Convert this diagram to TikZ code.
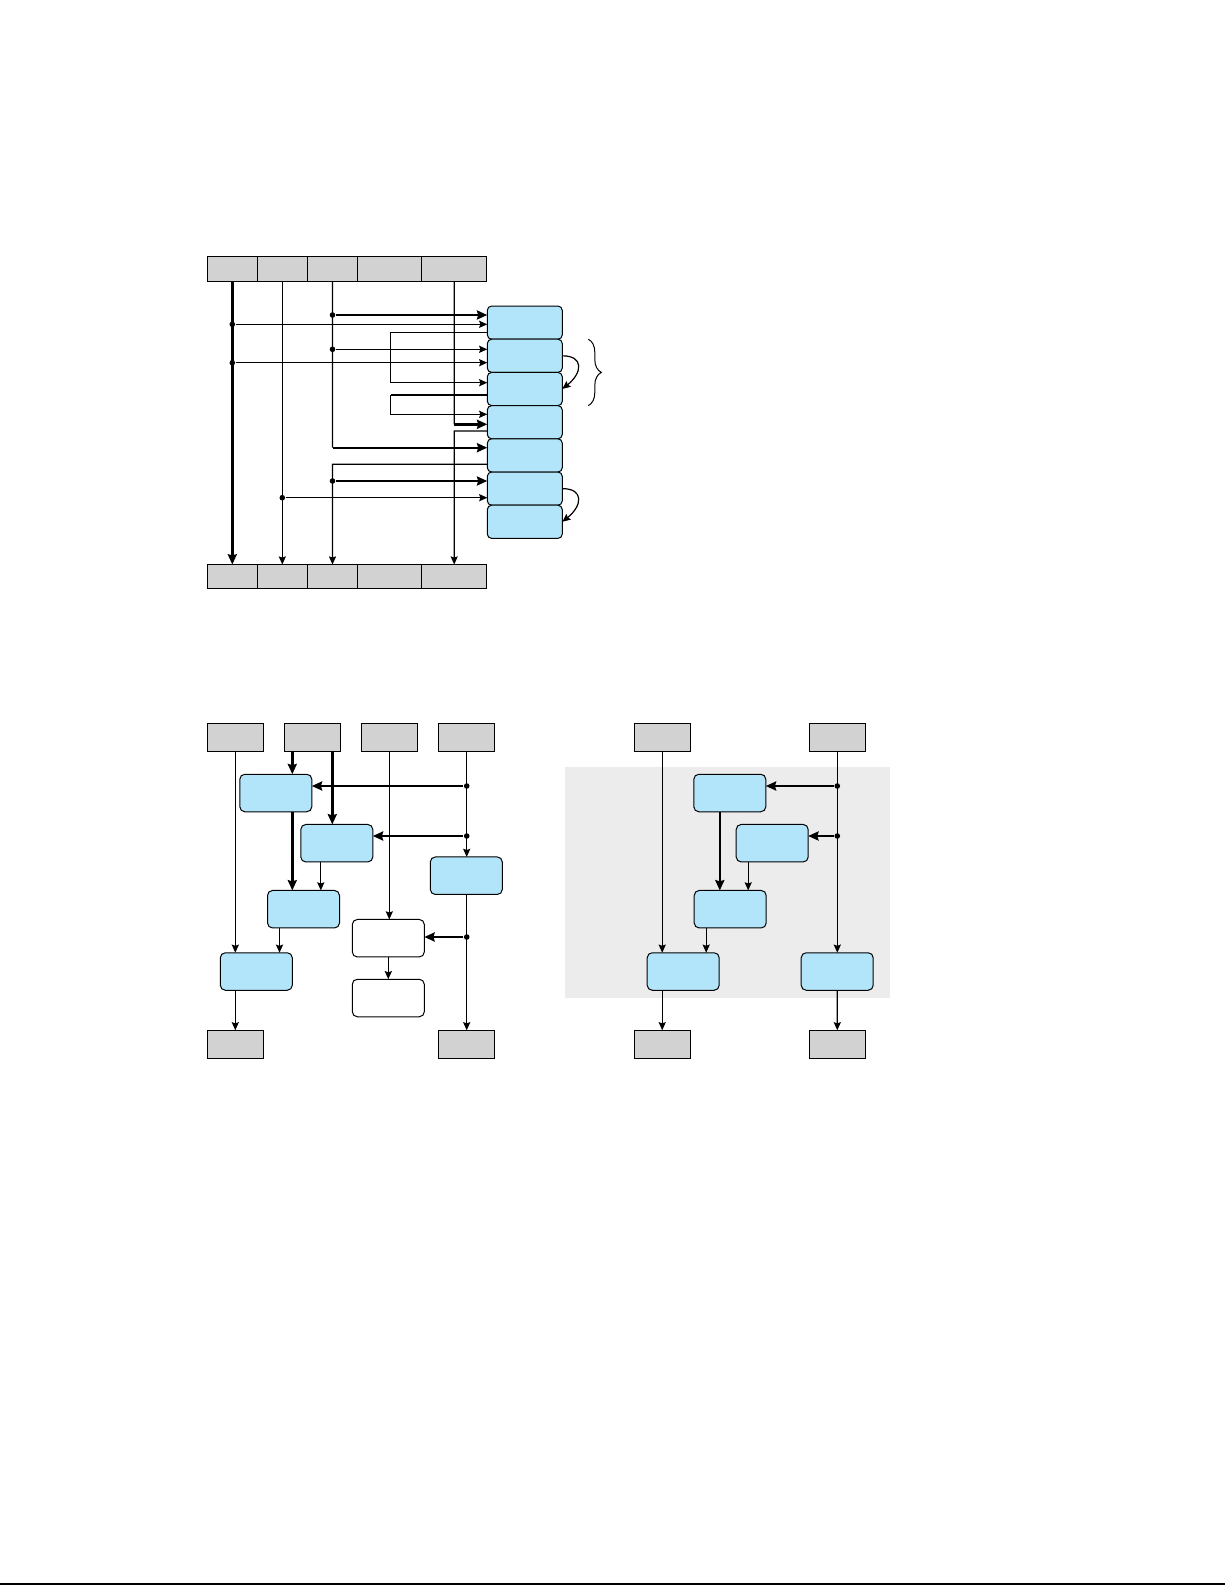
\documentclass[tikz,border=0pt]{standalone}
\usepackage{tikz}
\usetikzlibrary{calc}
\usetikzlibrary{positioning}
\usetikzlibrary{arrows.meta}
\usetikzlibrary{decorations.pathreplacing}

\definecolor{regGray}{HTML}{D2D2D2}
\definecolor{opBlue}{HTML}{B3E5FA}
\definecolor{panelGray}{HTML}{ECECEC}

\begin{document}
\begin{tikzpicture}[x=0.5pt, y=-0.5pt, line width=0.6pt,
    >={Stealth[length=3pt 1.8, width=2.6pt 1.6, inset=0.6pt]}]
    \tikzstyle{reg}=[draw, line width=0.5pt, fill=regGray, inner sep=0pt, outer sep=0pt, minimum height=12.15pt]
    \tikzstyle{op}=[draw, line width=0.5pt, fill=opBlue, rounded corners=2.2pt, inner sep=0pt, outer sep=0pt, minimum width=37.5pt, minimum height=16.6pt]
    \tikzstyle{fu}=[draw, line width=0.5pt, fill=opBlue, rounded corners=2.5pt, inner sep=0pt, outer sep=0pt, minimum width=36pt, minimum height=18.75pt]
    \tikzstyle{wb}=[fu, fill=white]
    \tikzstyle{gb}=[reg, minimum width=28pt, minimum height=14.2pt]
    \tikzstyle{bold}=[line width=1.2pt]
    \tikzstyle{jdot}=[circle, fill, inner sep=0pt, minimum size=2.8pt]

    \useasboundingbox (0,0) rectangle (1225,1585);

    % register file, before and after
    \node[reg, minimum width=25pt] (t1) at (232.3,268.9) {};
    \node[reg, minimum width=25pt, right=0pt of t1] (t2) {};
    \node[reg, minimum width=25.2pt, right=0pt of t2] (t3) {};
    \node[reg, minimum width=32pt, right=0pt of t3] (t4) {};
    \node[reg, minimum width=32.5pt, right=0pt of t4] (t5) {};

    \node[reg, minimum width=25pt] (b1) at (232.3,576.7) {};
    \node[reg, minimum width=25pt, right=0pt of b1] (b2) {};
    \node[reg, minimum width=25.2pt, right=0pt of b2] (b3) {};
    \node[reg, minimum width=32pt, right=0pt of b3] (b4) {};
    \node[reg, minimum width=32.5pt, right=0pt of b4] (b5) {};

    % stacked operations
    \node[op] (u1) at (524.8,322.6) {};
    \node[op, below=0pt of u1] (u2) {};
    \node[op, below=0pt of u2] (u3) {};
    \node[op, below=0pt of u3] (u4) {};
    \node[op, below=0pt of u4] (u5) {};
    \node[op, below=0pt of u5] (u6) {};
    \node[op, below=0pt of u6] (u7) {};

    % first column
    \draw[bold,->] (t1.south) -- (b1.north);
    \node[jdot] (a1) at (232.3,324.3) {};
    \node[jdot] (a2) at (232.3,362.7) {};
    \draw[->] (a1) -- (a1 -| u1.west);
    \draw[->] (a2) -- (a2 -| u2.west);

    % second column
    \draw[->] (t2.south) -- (b2.north);
    \node[jdot] (a3) at (282.3,497.7) {};
    \draw[->] (a3) -- (a3 -| u6.west);

    % third column
    \coordinate (c3) at (332.5,447.7);
    \coordinate (c3b) at (332.5,464.3);
    \draw (t3.south) -- (c3);
    \draw[bold,->] (c3) -- (c3 -| u5.west);
    \node[jdot] (a4) at (332.5,315) {};
    \node[jdot] (a5) at (332.5,349.3) {};
    \draw[bold,->] (a4) -- (a4 -| u1.west);
    \draw[->] (a5) -- (a5 -| u2.west);
    \draw[->] (u5.west |- c3b) -- (c3b) -- (b3.north);
    \node[jdot] (a6) at (332.5,481) {};
    \draw[bold,->] (a6) -- (a6 -| u6.west);

    % fifth column
    \coordinate (c5) at (454.2,424.3);
    \coordinate (c5b) at (454.2,431);
    \draw (t5.south) -- (c5);
    \draw[bold,->] (c5) -- (c5 -| u4.west);
    \draw[->] (u4.west |- c5b) -- (c5b) -- (b5.north);

    % feedback loops
    \coordinate (l1) at (390.7,332.7);
    \coordinate (l2) at (390.7,382.7);
    \coordinate (l3) at (390.7,395);
    \coordinate (l4) at (390.7,414.3);
    \draw[->] (u1.west |- l1) -- (l1) -- (l2) -- (l2 -| u3.west);
    \draw[bold] (u3.west |- l3) -- (l3);
    \draw[->] (l3) -- (l4) -- (l4 -| u4.west);

    \draw[->] (u2.east) .. controls +(22,0) and +(20,-16) .. (u3.east);
    \draw[->] (u6.east) .. controls +(22,0) and +(20,-16) .. (u7.east);
    \draw[line width=0.5pt, decorate, decoration={brace, amplitude=6.5pt}]
        ([xshift=13pt]u2.north east) -- ([xshift=13pt]u3.south east);

    % left graph
    \node[gb] (g1) at (235.3,737.5) {};
    \node[gb] (g2) at (312.3,737.5) {};
    \node[gb] (g3) at (389.3,737.5) {};
    \node[gb] (g4) at (466.7,737.5) {};
    \node[gb] (h1) at (235.3,1044.5) {};
    \node[gb] (h4) at (466.7,1044.5) {};

    \node[fu] (fa) at (275.8,793) {};
    \node[fu] (fb) at (336.8,843.2) {};
    \node[fu] (fe) at (466.3,875.7) {};
    \node[fu] (fc) at (303.5,909.2) {};
    \node[fu] (fd) at (256.3,971.5) {};
    \node[wb] (w1) at (388.3,938.2) {};
    \node[wb] (w2) at (388.3,998) {};

    \coordinate (g2l) at ([xshift=-10pt]g2.south);
    \coordinate (g2r) at ([xshift=10pt]g2.south);
    \coordinate (fbo) at ([xshift=-8pt]fb.south);
    \coordinate (fco) at ([xshift=-12pt]fc.south);

    \draw[->] (g1.south) -- (g1.south |- fd.north);
    \draw[->] (fd.south -| g1) -- (h1.north);
    \draw[bold,->] (g2l) -- (g2l |- fa.north);
    \draw[bold,->] (g2r) -- (g2r |- fb.north);
    \draw[bold,->] (g2l |- fa.south) -- (g2l |- fc.north);
    \draw[->] (fbo) -- (fbo |- fc.north);
    \draw[->] (fco) -- (fco |- fd.north);
    \draw[->] (g3.south) -- (g3.south |- w1.north);
    \draw[->] (w1.south) -- (w2.north);
    \draw[->] (g4.south) -- (g4.south |- fe.north);
    \draw[->] (fe.south -| g4) -- (h4.north);
    \node[jdot] (d1) at (466.7,786) {};
    \node[jdot] (d2) at (466.7,836) {};
    \node[jdot] (d3) at (466.7,937) {};
    \draw[bold,->] (d1) -- (d1 -| fa.east);
    \draw[bold,->] (d2) -- (d2 -| fb.east);
    \draw[bold,->] (d3) -- (d3 -| w1.east);

    % right graph
    \fill[panelGray] (565,766.7) rectangle (890,998.3);
    \node[gb] (k1) at (662.2,737.5) {};
    \node[gb] (k2) at (837.3,737.5) {};
    \node[gb] (m1) at (662.2,1044.5) {};
    \node[gb] (m2) at (837.3,1044.5) {};

    \node[fu] (pa) at (729.8,793) {};
    \node[fu] (pb) at (772.2,843.2) {};
    \node[fu] (pc) at (730.2,909.2) {};
    \node[fu] (pd) at (683.2,971.5) {};
    \node[fu] (pe) at (837.2,971.5) {};

    \coordinate (pao) at ([xshift=-5pt]pa.south);
    \coordinate (pbo) at ([xshift=-12pt]pb.south);
    \coordinate (pco) at ([xshift=-12pt]pc.south);

    \draw[->] (k1.south) -- (k1.south |- pd.north);
    \draw[->] (pd.south -| k1) -- (m1.north);
    \draw[->] (k2.south) -- (k2.south |- pe.north);
    \draw[->] (pe.south) -- (m2.north);
    \node[jdot] (e1) at (837.3,786) {};
    \node[jdot] (e2) at (837.3,836) {};
    \draw[bold,->] (e1) -- (e1 -| pa.east);
    \draw[bold,->] (e2) -- (e2 -| pb.east);
    \draw[bold,->] (pao) -- (pao |- pc.north);
    \draw[->] (pbo) -- (pbo |- pc.north);
    \draw[->] (pco) -- (pco |- pd.north);

    % page rule
    \draw[line width=0.9pt] (0,1584) -- (1225,1584);
\end{tikzpicture}
\end{document}
